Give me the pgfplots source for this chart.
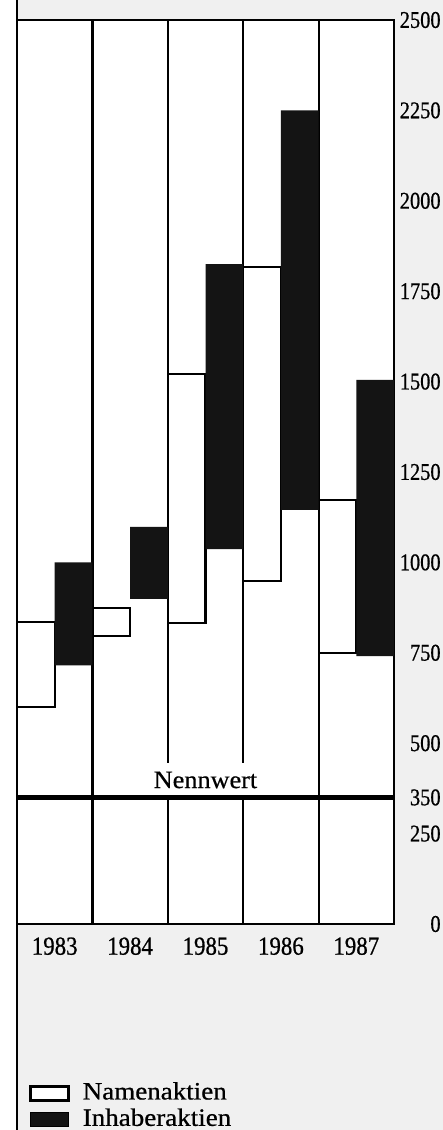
\documentclass[border=0pt]{standalone}
\usepackage{pgfplots}
\usepackage{pgfplotstable}
\pgfplotsset{compat=1.18}
\usepackage{fontspec}
\setmainfont{Liberation Serif}
\newfontfamily\tickfam[FakeStretch=0.85, FakeBold=0.7]{Liberation Serif}
\newfontfamily\yearfam[FakeStretch=0.88, FakeBold=0.7]{Liberation Serif}
\newfontfamily\labfam[FakeStretch=1.05, FakeBold=0.5]{Liberation Serif}
\newfontfamily\legfam[FakeStretch=1.08, FakeBold=0.7]{Liberation Serif}
\newcommand\tickfont{\tickfam\fontsize{12pt}{14pt}\selectfont}
\newcommand\yearfont{\yearfam\fontsize{13pt}{15pt}\selectfont}
\newcommand\labfont{\labfam\fontsize{12.5pt}{15pt}\selectfont}
\newcommand\legfont{\legfam\fontsize{12.5pt}{15pt}\selectfont}

% Kursspannen (tief / hoch) je Jahr
\pgfplotstableread{
x    low  high
0.25 600  835
1.25 796  874
2.25 832  1520
3.25 949  1817
4.25 749  1172
}\namen
\pgfplotstableread{
x    low  high
0.75 715  1000
1.75 899  1098
2.75 1037 1825
3.75 1145 2250
4.75 741  1505
}\inhaber

\begin{document}
\begin{tikzpicture}
% paper
\fill[white] (-8.5pt,-103pt) rectangle (213pt,462pt);
\fill[black!6] (0pt,-103pt) rectangle (213pt,462pt);

\begin{axis}[
    at={(0pt,0pt)}, anchor=south west,
    scale only axis, width=188.5pt, height=452pt,
    xmin=0, xmax=5, ymin=0, ymax=2500,
    enlargelimits=false,
    axis background/.style={fill=white},
    axis line style={line width=1.1pt},
    ybar stacked, bar width=0.5,
    major tick length=0pt,
    xtick={0.5,1.5,2.5,3.5,4.5},
    xticklabels={1983,1984,1985,1986,1987},
    xticklabel style={anchor=north, inner sep=0pt, yshift=-6.5pt, font=\yearfont},
    extra x ticks={1,2,3,4},
    extra x tick labels={},
    extra x tick style={grid=major, major grid style={black, line width=1.1pt}},
    ytick={0,250,350,500,750,1000,1250,1500,1750,2000,2250,2500},
    yticklabels={0,250,350,500,750,1000,1250,1500,1750,2000,2250,2500},
    yticklabel pos=right,
    yticklabel style={anchor=east, inner sep=0pt, xshift=23.5pt, font=\tickfont},
    extra y ticks={350},
    extra y tick labels={},
    extra y tick style={grid=major, major grid style={black, line width=2.5pt}},
    legend image code/.code={\draw[#1] (0pt,-4pt) rectangle (19pt,3pt);},
    legend style={at={(0.0318,-0.1745)}, anchor=north west, draw=none, fill=none,
        inner sep=0pt, row sep=3pt, column sep=6.5pt, font=\legfont,
        nodes={inner sep=0pt}},
    legend cell align=left,
]
\addplot [draw=none, fill=none, forget plot] table [x=x, y=low] {\namen};
\addplot [fill=white, draw=black, line width=1.1pt, forget plot]
    table [x=x, y expr=\thisrow{high}-\thisrow{low}] {\namen};
\node [fill=white, anchor=south, inner ysep=0pt, text height=12.5pt, text depth=3.25pt,
    font=\labfont, yshift=1.25pt] at (axis cs:2.5,350) {Nennwert};
\addlegendimage{fill=white, draw=black, line width=1.2pt}
\addlegendentry{Namenaktien}
\addlegendimage{fill=black!92, draw=none}
\addlegendentry{Inhaberaktien}
\end{axis}

\begin{axis}[
    at={(0pt,0pt)}, anchor=south west,
    scale only axis, width=188.5pt, height=452pt,
    xmin=0, xmax=5, ymin=0, ymax=2500,
    enlargelimits=false,
    hide axis,
    ybar stacked, bar width=0.5,
]
\addplot [draw=none, fill=none] table [x=x, y=low] {\inhaber};
\addplot [fill=black!92, draw=none]
    table [x=x, y expr=\thisrow{high}-\thisrow{low}] {\inhaber};
\end{axis}

% page edge line
\draw[line width=1.1pt] (0pt,-103pt) -- (0pt,462pt);
\pgfresetboundingbox
\path (-8.5pt,-103pt) rectangle (213pt,462pt);
\end{tikzpicture}
\end{document}
